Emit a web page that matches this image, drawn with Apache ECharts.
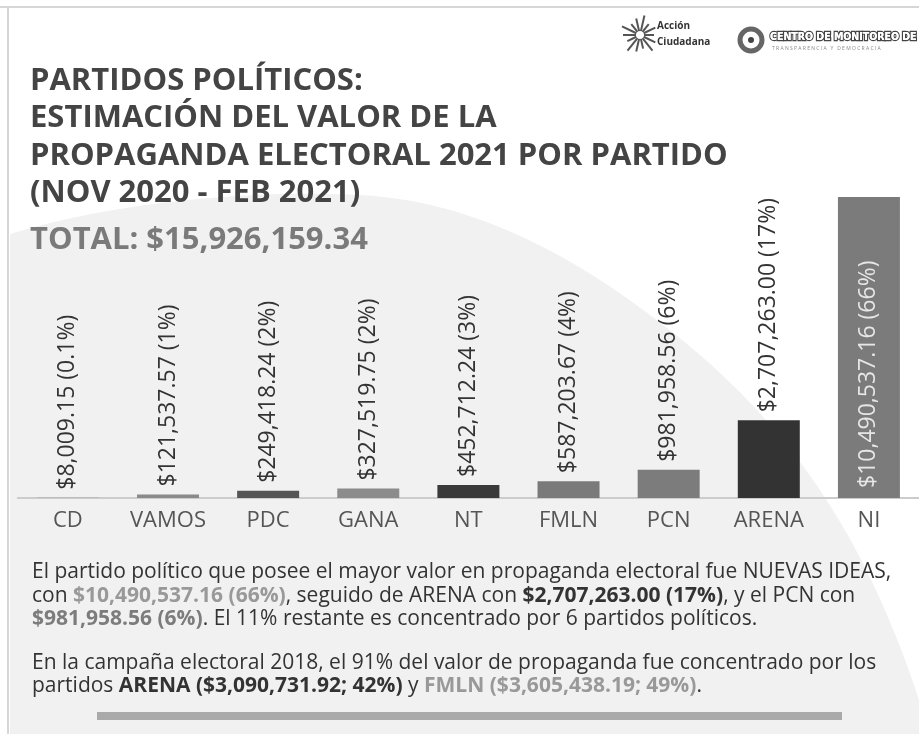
<!DOCTYPE html>
<html>
<head>
<meta charset="utf-8">
<script src="https://cdn.jsdelivr.net/npm/echarts@6/dist/echarts.min.js"></script>
<style>
html,body{margin:0;padding:0;background:#fff;}
#c{width:919px;height:734px;}
</style>
</head>
<body>
<div id="c"></div>
<script>
const categories = ['CD','VAMOS','PDC','GANA','NT','FMLN','PCN','ARENA','NI'];
const values = [8009.15,121537.57,249418.24,327519.75,452712.24,587203.67,981958.56,2707263.00,10490537.16];
const shares = ['0.1%','1%','2%','2%','3%','4%','6%','17%','66%'];
const barColors = ['#8a8a8a','#8a8a8a','#555555','#8c8c8c','#3a3a3a','#7a7a7a','#7c7c7c','#333333','#7b7b7b'];
const titleLines = ['PARTIDOS POLÍTICOS:','ESTIMACIÓN DEL VALOR DE LA','PROPAGANDA ELECTORAL 2021 POR PARTIDO','(NOV 2020 - FEB 2021)'];
const totalText = 'TOTAL: $15,926,159.34';

const fmt = v => '$' + v.toLocaleString('en-US',{minimumFractionDigits:2,maximumFractionDigits:2});
const FONT = '"Open Sans", "Noto Sans", sans-serif';

const chart = echarts.init(document.getElementById('c'));

function cubic(p0,p1,p2,p3,n,out){
  for(let k=0;k<=n;k++){const t=k/n,u=1-t;
    out.push([u*u*u*p0[0]+3*u*u*t*p1[0]+3*u*t*t*p2[0]+t*t*t*p3[0], u*u*u*p0[1]+3*u*u*t*p1[1]+3*u*t*t*p2[1]+t*t*t*p3[1]]);}
}
const blob=[];
cubic([10,234],[120,200],[260,190],[360,195],30,blob);
cubic([360,195],[480,201],[590,262],[700,355],30,blob);
cubic([700,355],[780,425],[860,520],[919,700],30,blob);
blob.push([919,734],[10,734]);

const graphics = [];
graphics.push({type:'polygon', z:-10, silent:true, shape:{points:blob}, style:{fill:'#f1f1f1'}});
graphics.push({type:'line', shape:{x1:0,y1:7,x2:919,y2:7}, style:{stroke:'#d6d6d6',lineWidth:2}});
graphics.push({type:'line', shape:{x1:8,y1:7,x2:8,y2:734}, style:{stroke:'#d6d6d6',lineWidth:2}});
titleLines.forEach((t,i)=>{
  graphics.push({type:'text', x:30, y:81+i*37.5, style:{text:t, font:'bold 31px '+FONT, fill:'#444', textVerticalAlign:'middle'}});
});
graphics.push({type:'text', x:30, y:240, style:{text:totalText, font:'bold 31px '+FONT, fill:'#7a7a7a', textVerticalAlign:'middle'}});
// logo 1
for(let k=0;k<14;k++){
  const a = k/14*Math.PI*2, r2 = 14+(k%3)*3;
  graphics.push({type:'line', shape:{x1:640+Math.cos(a)*4,y1:35+Math.sin(a)*4,x2:640+Math.cos(a)*r2,y2:35+Math.sin(a)*r2}, style:{stroke:'#555',lineWidth:2}});
}
graphics.push({type:'text', x:657, y:26, style:{text:'Acción', font:'bold 10px '+FONT, fill:'#333', textVerticalAlign:'middle'}});
graphics.push({type:'text', x:657, y:42, style:{text:'Ciudadana', font:'bold 10px '+FONT, fill:'#333', textVerticalAlign:'middle'}});
// logo 2
graphics.push({type:'circle', shape:{cx:751,cy:40,r:11}, style:{fill:'none',stroke:'#666',lineWidth:5}});
graphics.push({type:'circle', shape:{cx:751,cy:40,r:3}, style:{fill:'#444'}});
graphics.push({type:'text', x:770, y:37, style:{text:'CENTRO DE MONITOREO DE', font:'bold 10.5px "DejaVu Sans Condensed", sans-serif', fill:'#fff', stroke:'#444', lineWidth:2.5, textVerticalAlign:'middle'}});
graphics.push({type:'text', x:770, y:37, style:{text:'CENTRO DE MONITOREO DE', font:'bold 10.5px "DejaVu Sans Condensed", sans-serif', fill:'#fff', textVerticalAlign:'middle'}});
graphics.push({type:'text', x:772, y:49, style:{text:'T R A N S P A R E N C I A   Y   D E M O C R A C I A', font:'5px '+FONT, fill:'#888', textVerticalAlign:'middle'}});

const rich = {
  n:{font:'21px '+FONT, fill:'#333'},
  b:{font:'bold 21px '+FONT, fill:'#333'},
  l:{font:'bold 21px '+FONT, fill:'#999'},
  m:{font:'bold 21px '+FONT, fill:'#7c7c7c'}
};
const paraLines = [
  ['{n|El partido político que posee el mayor valor en propaganda electoral fue NUEVAS IDEAS,}', 572],
  ['{n|con }{l|$10,490,537.16 (66%)}{n|, seguido de ARENA con }{b|$2,707,263.00 (17%)}{n|, y el PCN con}', 596],
  ['{m|$981,958.56 (6%)}{n|. El 11% restante es concentrado por 6 partidos políticos.}', 619],
  ['{n|En la campaña electoral 2018, el 91% del valor de propaganda fue concentrado por los}', 663],
  ['{n|partidos }{b|ARENA ($3,090,731.92; 42%)}{n| y }{l|FMLN ($3,605,438.19; 49%)}{n|.}', 686]
];
paraLines.forEach(([t,y])=>{
  graphics.push({type:'text', x:32, y:y, style:{text:t, rich:rich, font:'21px '+FONT, fill:'#333', textVerticalAlign:'middle'}});
});
graphics.push({type:'rect', shape:{x:97,y:712,width:745,height:8}, style:{fill:'#aaaaaa'}});

const option = {
  backgroundColor:'#fff',
  animation:false,
  graphic: graphics,
  grid:{left:17.8, width:903.6, top:197, bottom:236, containLabel:false},
  xAxis:{type:'category', data:categories,
    axisLine:{lineStyle:{color:'#cccccc',width:2}}, axisTick:{show:false},
    axisLabel:{interval:0, fontFamily:FONT, fontSize:22, color:'#555', margin:12}},
  yAxis:{type:'value', min:0, max:values[values.length-1], show:false, splitLine:{show:false}},
  series:[{type:'bar', barWidth:62,
    data: values.map((v,i)=>{
      const isMax = i===values.length-1;
      return {value:v, itemStyle:{color:barColors[i]},
        label: isMax ? {position:'insideBottom', color:'#e6e6e6', distance:10} : {}};
    }),
    label:{show:true, position:'top', rotate:90, align:'left', verticalAlign:'middle', distance:8,
      fontFamily:FONT, fontSize:23, color:'#333',
      formatter:p=>fmt(values[p.dataIndex])+' ('+shares[p.dataIndex]+')'}
  }]
};
chart.setOption(option);
</script>
</body>
</html>
